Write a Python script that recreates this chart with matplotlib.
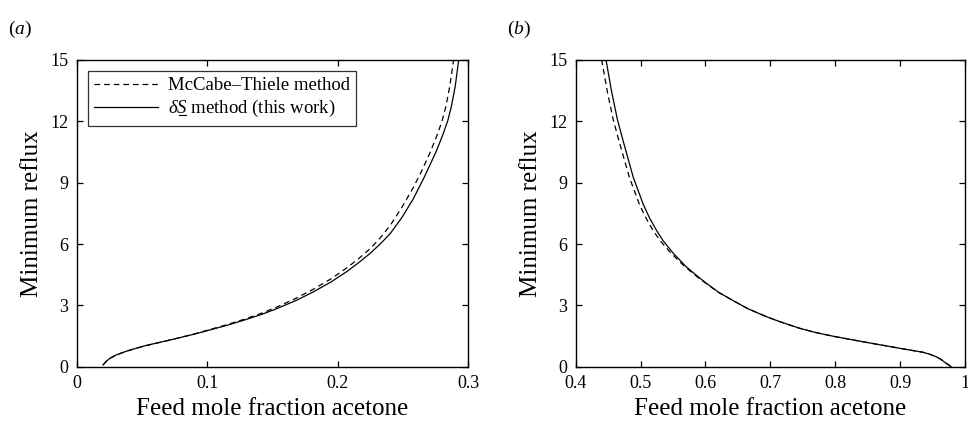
import matplotlib
matplotlib.use("Agg")
import matplotlib.pyplot as plt
from matplotlib.lines import Line2D

plt.rcParams["font.family"] = ["Liberation Serif", "DejaVu Serif"]
plt.rcParams["mathtext.fontset"] = "custom"
plt.rcParams["mathtext.rm"] = "Liberation Serif"
plt.rcParams["mathtext.it"] = "Liberation Serif:italic"

# panel (a): low-acetone feeds
a_solid_x = [0.0202, 0.023, 0.026, 0.03, 0.0386, 0.0514, 0.065, 0.077, 0.09, 0.1,
             0.115, 0.128, 0.142, 0.154, 0.169, 0.1816, 0.195, 0.2072, 0.216,
             0.2251, 0.233, 0.2405, 0.2494, 0.258, 0.266, 0.2755, 0.2805, 0.2844,
             0.2872, 0.2902, 0.2929]
a_solid_y = [0.1, 0.3, 0.44, 0.58, 0.78, 1.02, 1.22, 1.4, 1.6, 1.77,
             2.03, 2.28, 2.57, 2.86, 3.27, 3.67, 4.15, 4.66, 5.08,
             5.55, 6.02, 6.52, 7.3, 8.2, 9.2, 10.5, 11.3, 12.0,
             12.7, 13.7, 15.0]
a_dash_x = [0.0202, 0.023, 0.026, 0.03, 0.0386, 0.0514, 0.065, 0.077, 0.09, 0.1,
            0.115, 0.128, 0.142, 0.154, 0.169, 0.1816, 0.195, 0.2072, 0.216,
            0.2251, 0.233, 0.2405, 0.2494, 0.258, 0.264, 0.2712, 0.2762, 0.2801,
            0.283, 0.286, 0.289]
a_dash_y = [0.1, 0.3, 0.44, 0.58, 0.78, 1.02, 1.22, 1.4, 1.61, 1.79,
            2.06, 2.32, 2.63, 2.94, 3.38, 3.8, 4.3, 4.84, 5.28,
            5.78, 6.32, 6.92, 7.8, 8.75, 9.5, 10.5, 11.3, 12.0,
            12.7, 13.7, 15.0]

# panel (b): high-acetone feeds
b_solid_x = [0.4467, 0.455, 0.4641, 0.4734, 0.4888, 0.504, 0.5134, 0.5248, 0.535,
             0.5504, 0.57, 0.5915, 0.6, 0.62, 0.642, 0.665, 0.6935, 0.7147, 0.745,
             0.77, 0.8, 0.85, 0.9, 0.92, 0.935, 0.945, 0.9556, 0.962, 0.966,
             0.9709, 0.975, 0.978, 0.979]
b_solid_y = [15.0, 13.5, 12.1, 11.0, 9.25, 7.95, 7.3, 6.65, 6.15,
             5.55, 4.9, 4.33, 4.12, 3.65, 3.25, 2.85, 2.46, 2.21, 1.89,
             1.68, 1.48, 1.19, 0.91, 0.8, 0.72, 0.63, 0.5, 0.39, 0.3,
             0.18, 0.1, 0.03, 0.0]
b_dash_x = [0.440, 0.449, 0.458, 0.4674, 0.4828, 0.498, 0.5078, 0.5195, 0.5305,
            0.547, 0.568, 0.590, 0.6, 0.62, 0.642, 0.665, 0.6935, 0.7147, 0.745,
            0.77, 0.8, 0.85, 0.9, 0.92, 0.935, 0.945, 0.9556, 0.962, 0.966,
            0.9709, 0.975, 0.978, 0.979]
b_dash_y = [15.0, 13.4, 12.05, 10.95, 9.25, 7.95, 7.3, 6.65, 6.15,
            5.55, 4.9, 4.33, 4.1, 3.64, 3.25, 2.85, 2.46, 2.21, 1.89,
            1.68, 1.48, 1.19, 0.91, 0.8, 0.72, 0.63, 0.5, 0.39, 0.3,
            0.18, 0.1, 0.03, 0.0]

yticks = [0, 3, 6, 9, 12, 15]
a_xticks = [0, 0.1, 0.2, 0.3]
a_xlabels = ["0", "0.1", "0.2", "0.3"]
b_xticks = [0.4, 0.5, 0.6, 0.7, 0.8, 0.9, 1.0]
b_xlabels = ["0.4", "0.5", "0.6", "0.7", "0.8", "0.9", "1"]

LW = 0.9
DASH = (4.5, 3.2)
LEG_FS = 13.5

fig = plt.figure(figsize=(9.68, 4.23), dpi=100)
ax_a = fig.add_axes([0.0792, 0.1324, 0.4043, 0.7269])
ax_b = fig.add_axes([0.5947, 0.1324, 0.4022, 0.7269])

ax_a.plot(a_dash_x, a_dash_y, color="black", lw=LW, dashes=DASH,
          label="McCabe\u2013Thiele method")
ax_a.plot(a_solid_x, a_solid_y, color="black", lw=LW,
          label="$\\delta\\mathit{S}$ method (this work)")
ax_b.plot(b_dash_x, b_dash_y, color="black", lw=LW, dashes=DASH)
ax_b.plot(b_solid_x, b_solid_y, color="black", lw=LW)

for ax, xt, xl, xlim in [(ax_a, a_xticks, a_xlabels, (0, 0.3)),
                         (ax_b, b_xticks, b_xlabels, (0.4, 1.0))]:
    ax.set_xlim(*xlim)
    ax.set_ylim(0, 15)
    ax.set_xticks(xt)
    ax.set_xticklabels(xl)
    ax.set_yticks(yticks)
    ax.tick_params(direction="in", top=True, right=True, length=4, width=0.9,
                   labelsize=13)
    ax.tick_params(axis="x", pad=6)
    ax.tick_params(axis="y", pad=6)
    for s in ax.spines.values():
        s.set_linewidth(1.0)
    ax.set_xlabel("Feed mole fraction acetone", fontsize=18, labelpad=4)
    ax.set_ylabel("Minimum reflux", fontsize=18, labelpad=5)

leg = ax_a.legend(loc="upper left", fontsize=LEG_FS, frameon=True, fancybox=False,
                  handlelength=3.4, borderpad=0.35, labelspacing=0.2,
                  handletextpad=0.5, borderaxespad=0.6)
leg.get_frame().set_edgecolor("black")
leg.get_frame().set_linewidth(0.9)

fig.text(0.008, 0.93, "($\\mathit{a}$)", fontsize=14, va="center")
fig.text(0.524, 0.93, "($\\mathit{b}$)", fontsize=14, va="center")

# underline the S of the second legend entry
fig.canvas.draw()
r = fig.canvas.get_renderer()
lt = leg.get_texts()[1]
bb = lt.get_window_extent(r)


def text_width(s):
    tmp = fig.text(0, 0, s, fontsize=LEG_FS)
    w = tmp.get_window_extent(r).width
    tmp.remove()
    return w


x0 = bb.x0 + text_width("$\\delta$") + 0.5
x1 = bb.x0 + text_width("$\\delta\\mathit{S}$") - 1.0
_, _, desc = r.get_text_width_height_descent(lt.get_text(), lt.get_fontproperties(), ismath=True)
yb = bb.y0 + desc - 2.0
W, H = fig.bbox.width, fig.bbox.height
fig.add_artist(Line2D([x0 / W, x1 / W], [yb / H, yb / H], transform=fig.transFigure,
                      color="black", lw=0.8))

fig.savefig("out.png", dpi=100)
